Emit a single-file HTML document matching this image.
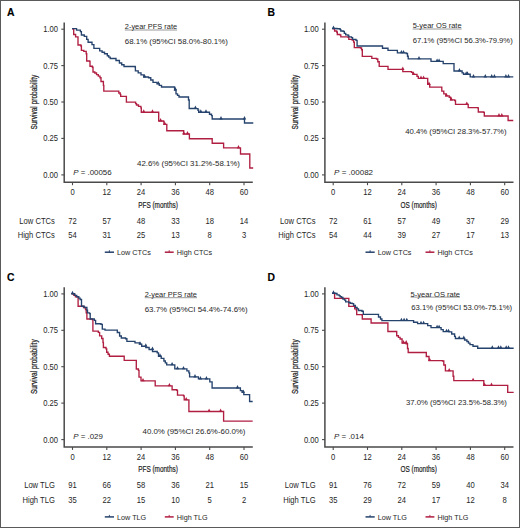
<!DOCTYPE html>
<html><head><meta charset="utf-8"><style>
html,body{margin:0;padding:0;background:#fff;}
body{width:520px;height:528px;overflow:hidden;}
svg{display:block;font-family:"Liberation Sans", sans-serif;}
text{}
</style></head><body>
<svg width="520" height="528" viewBox="0 0 520 528">
<rect x="0" y="0" width="520" height="528" fill="#fff"/>
<text transform="translate(6.90,16.20) scale(0.92,1)" font-size="11.3" font-weight="bold" fill="#000" style="stroke:#000;stroke-width:0.15px">A</text>
<path d="M64.20,22.50 V182.30 H252.80" fill="none" stroke="#4a4a4a" stroke-width="1.5"/>
<line x1="61.30" y1="29.20" x2="64.20" y2="29.20" stroke="#4a4a4a" stroke-width="1.1"/>
<text transform="translate(58.00,32.20) scale(0.930,1)" font-size="8.20" text-anchor="end" fill="#262626" >1.00</text>
<line x1="61.30" y1="65.60" x2="64.20" y2="65.60" stroke="#4a4a4a" stroke-width="1.1"/>
<text transform="translate(58.00,68.60) scale(0.930,1)" font-size="8.20" text-anchor="end" fill="#262626" >0.75</text>
<line x1="61.30" y1="102.00" x2="64.20" y2="102.00" stroke="#4a4a4a" stroke-width="1.1"/>
<text transform="translate(58.00,105.00) scale(0.930,1)" font-size="8.20" text-anchor="end" fill="#262626" >0.50</text>
<line x1="61.30" y1="138.40" x2="64.20" y2="138.40" stroke="#4a4a4a" stroke-width="1.1"/>
<text transform="translate(58.00,141.40) scale(0.930,1)" font-size="8.20" text-anchor="end" fill="#262626" >0.25</text>
<line x1="61.30" y1="174.90" x2="64.20" y2="174.90" stroke="#4a4a4a" stroke-width="1.1"/>
<text transform="translate(58.00,177.90) scale(0.930,1)" font-size="8.20" text-anchor="end" fill="#262626" >0.00</text>
<line x1="72.50" y1="182.30" x2="72.50" y2="185.20" stroke="#4a4a4a" stroke-width="1.1"/>
<text transform="translate(72.50,195.40) scale(0.930,1)" font-size="8.20" text-anchor="middle" fill="#262626" >0</text>
<line x1="106.80" y1="182.30" x2="106.80" y2="185.20" stroke="#4a4a4a" stroke-width="1.1"/>
<text transform="translate(106.80,195.40) scale(0.930,1)" font-size="8.20" text-anchor="middle" fill="#262626" >12</text>
<line x1="141.10" y1="182.30" x2="141.10" y2="185.20" stroke="#4a4a4a" stroke-width="1.1"/>
<text transform="translate(141.10,195.40) scale(0.930,1)" font-size="8.20" text-anchor="middle" fill="#262626" >24</text>
<line x1="175.40" y1="182.30" x2="175.40" y2="185.20" stroke="#4a4a4a" stroke-width="1.1"/>
<text transform="translate(175.40,195.40) scale(0.930,1)" font-size="8.20" text-anchor="middle" fill="#262626" >36</text>
<line x1="209.70" y1="182.30" x2="209.70" y2="185.20" stroke="#4a4a4a" stroke-width="1.1"/>
<text transform="translate(209.70,195.40) scale(0.930,1)" font-size="8.20" text-anchor="middle" fill="#262626" >48</text>
<line x1="244.00" y1="182.30" x2="244.00" y2="185.20" stroke="#4a4a4a" stroke-width="1.1"/>
<text transform="translate(244.00,195.40) scale(0.930,1)" font-size="8.20" text-anchor="middle" fill="#262626" >60</text>
<text transform="translate(158.00,207.50) scale(0.74,1)" font-size="8.7" text-anchor="middle" fill="#262626" style="stroke:#1a1a1a;stroke-width:0.2px">PFS (months)</text>
<text transform="translate(36.80,102.00) rotate(-90) scale(0.76,1)" font-size="8.6" text-anchor="middle" fill="#262626" style="stroke:#1a1a1a;stroke-width:0.25px">Survival probability</text>
<text transform="translate(54.90,223.60) scale(0.930,1)" font-size="8.20" text-anchor="end" fill="#262626" >Low CTCs</text>
<text transform="translate(54.90,237.80) scale(0.930,1)" font-size="8.20" text-anchor="end" fill="#262626" >High CTCs</text>
<text transform="translate(72.50,223.60) scale(0.930,1)" font-size="8.20" text-anchor="middle" fill="#262626" >72</text>
<text transform="translate(72.50,237.80) scale(0.930,1)" font-size="8.20" text-anchor="middle" fill="#262626" >54</text>
<text transform="translate(106.80,223.60) scale(0.930,1)" font-size="8.20" text-anchor="middle" fill="#262626" >57</text>
<text transform="translate(106.80,237.80) scale(0.930,1)" font-size="8.20" text-anchor="middle" fill="#262626" >31</text>
<text transform="translate(141.10,223.60) scale(0.930,1)" font-size="8.20" text-anchor="middle" fill="#262626" >48</text>
<text transform="translate(141.10,237.80) scale(0.930,1)" font-size="8.20" text-anchor="middle" fill="#262626" >25</text>
<text transform="translate(175.40,223.60) scale(0.930,1)" font-size="8.20" text-anchor="middle" fill="#262626" >33</text>
<text transform="translate(175.40,237.80) scale(0.930,1)" font-size="8.20" text-anchor="middle" fill="#262626" >13</text>
<text transform="translate(209.70,223.60) scale(0.930,1)" font-size="8.20" text-anchor="middle" fill="#262626" >18</text>
<text transform="translate(209.70,237.80) scale(0.930,1)" font-size="8.20" text-anchor="middle" fill="#262626" >8</text>
<text transform="translate(244.00,223.60) scale(0.930,1)" font-size="8.20" text-anchor="middle" fill="#262626" >14</text>
<text transform="translate(244.00,237.80) scale(0.930,1)" font-size="8.20" text-anchor="middle" fill="#262626" >3</text>
<line x1="104.80" y1="252.20" x2="114.00" y2="252.20" stroke="#26436d" stroke-width="1.5"/>
<line x1="109.40" y1="250.20" x2="109.40" y2="252.20" stroke="#26436d" stroke-width="0.9"/>
<text transform="translate(117.00,255.00) scale(0.930,1)" font-size="7.79" text-anchor="start" fill="#262626" >Low CTCs</text>
<line x1="164.80" y1="252.20" x2="173.70" y2="252.20" stroke="#b01e42" stroke-width="1.5"/>
<line x1="169.20" y1="250.20" x2="169.20" y2="252.20" stroke="#b01e42" stroke-width="0.9"/>
<text transform="translate(176.80,255.00) scale(0.930,1)" font-size="7.79" text-anchor="start" fill="#262626" >High CTCs</text>
<text transform="translate(267.60,16.20) scale(0.92,1)" font-size="11.3" font-weight="bold" fill="#000" style="stroke:#000;stroke-width:0.15px">B</text>
<path d="M324.90,22.50 V182.30 H513.50" fill="none" stroke="#4a4a4a" stroke-width="1.5"/>
<line x1="322.00" y1="29.20" x2="324.90" y2="29.20" stroke="#4a4a4a" stroke-width="1.1"/>
<text transform="translate(318.70,32.20) scale(0.930,1)" font-size="8.20" text-anchor="end" fill="#262626" >1.00</text>
<line x1="322.00" y1="65.60" x2="324.90" y2="65.60" stroke="#4a4a4a" stroke-width="1.1"/>
<text transform="translate(318.70,68.60) scale(0.930,1)" font-size="8.20" text-anchor="end" fill="#262626" >0.75</text>
<line x1="322.00" y1="102.00" x2="324.90" y2="102.00" stroke="#4a4a4a" stroke-width="1.1"/>
<text transform="translate(318.70,105.00) scale(0.930,1)" font-size="8.20" text-anchor="end" fill="#262626" >0.50</text>
<line x1="322.00" y1="138.40" x2="324.90" y2="138.40" stroke="#4a4a4a" stroke-width="1.1"/>
<text transform="translate(318.70,141.40) scale(0.930,1)" font-size="8.20" text-anchor="end" fill="#262626" >0.25</text>
<line x1="322.00" y1="174.90" x2="324.90" y2="174.90" stroke="#4a4a4a" stroke-width="1.1"/>
<text transform="translate(318.70,177.90) scale(0.930,1)" font-size="8.20" text-anchor="end" fill="#262626" >0.00</text>
<line x1="333.20" y1="182.30" x2="333.20" y2="185.20" stroke="#4a4a4a" stroke-width="1.1"/>
<text transform="translate(333.20,195.40) scale(0.930,1)" font-size="8.20" text-anchor="middle" fill="#262626" >0</text>
<line x1="367.50" y1="182.30" x2="367.50" y2="185.20" stroke="#4a4a4a" stroke-width="1.1"/>
<text transform="translate(367.50,195.40) scale(0.930,1)" font-size="8.20" text-anchor="middle" fill="#262626" >12</text>
<line x1="401.80" y1="182.30" x2="401.80" y2="185.20" stroke="#4a4a4a" stroke-width="1.1"/>
<text transform="translate(401.80,195.40) scale(0.930,1)" font-size="8.20" text-anchor="middle" fill="#262626" >24</text>
<line x1="436.10" y1="182.30" x2="436.10" y2="185.20" stroke="#4a4a4a" stroke-width="1.1"/>
<text transform="translate(436.10,195.40) scale(0.930,1)" font-size="8.20" text-anchor="middle" fill="#262626" >36</text>
<line x1="470.40" y1="182.30" x2="470.40" y2="185.20" stroke="#4a4a4a" stroke-width="1.1"/>
<text transform="translate(470.40,195.40) scale(0.930,1)" font-size="8.20" text-anchor="middle" fill="#262626" >48</text>
<line x1="504.70" y1="182.30" x2="504.70" y2="185.20" stroke="#4a4a4a" stroke-width="1.1"/>
<text transform="translate(504.70,195.40) scale(0.930,1)" font-size="8.20" text-anchor="middle" fill="#262626" >60</text>
<text transform="translate(418.70,207.50) scale(0.74,1)" font-size="8.7" text-anchor="middle" fill="#262626" style="stroke:#1a1a1a;stroke-width:0.2px">OS (months)</text>
<text transform="translate(297.50,102.00) rotate(-90) scale(0.76,1)" font-size="8.6" text-anchor="middle" fill="#262626" style="stroke:#1a1a1a;stroke-width:0.25px">Survival probability</text>
<text transform="translate(315.60,223.60) scale(0.930,1)" font-size="8.20" text-anchor="end" fill="#262626" >Low CTCs</text>
<text transform="translate(315.60,237.80) scale(0.930,1)" font-size="8.20" text-anchor="end" fill="#262626" >High CTCs</text>
<text transform="translate(333.20,223.60) scale(0.930,1)" font-size="8.20" text-anchor="middle" fill="#262626" >72</text>
<text transform="translate(333.20,237.80) scale(0.930,1)" font-size="8.20" text-anchor="middle" fill="#262626" >54</text>
<text transform="translate(367.50,223.60) scale(0.930,1)" font-size="8.20" text-anchor="middle" fill="#262626" >61</text>
<text transform="translate(367.50,237.80) scale(0.930,1)" font-size="8.20" text-anchor="middle" fill="#262626" >44</text>
<text transform="translate(401.80,223.60) scale(0.930,1)" font-size="8.20" text-anchor="middle" fill="#262626" >57</text>
<text transform="translate(401.80,237.80) scale(0.930,1)" font-size="8.20" text-anchor="middle" fill="#262626" >39</text>
<text transform="translate(436.10,223.60) scale(0.930,1)" font-size="8.20" text-anchor="middle" fill="#262626" >49</text>
<text transform="translate(436.10,237.80) scale(0.930,1)" font-size="8.20" text-anchor="middle" fill="#262626" >27</text>
<text transform="translate(470.40,223.60) scale(0.930,1)" font-size="8.20" text-anchor="middle" fill="#262626" >37</text>
<text transform="translate(470.40,237.80) scale(0.930,1)" font-size="8.20" text-anchor="middle" fill="#262626" >17</text>
<text transform="translate(504.70,223.60) scale(0.930,1)" font-size="8.20" text-anchor="middle" fill="#262626" >29</text>
<text transform="translate(504.70,237.80) scale(0.930,1)" font-size="8.20" text-anchor="middle" fill="#262626" >13</text>
<line x1="365.50" y1="252.20" x2="374.70" y2="252.20" stroke="#26436d" stroke-width="1.5"/>
<line x1="370.10" y1="250.20" x2="370.10" y2="252.20" stroke="#26436d" stroke-width="0.9"/>
<text transform="translate(377.70,255.00) scale(0.930,1)" font-size="7.79" text-anchor="start" fill="#262626" >Low CTCs</text>
<line x1="425.50" y1="252.20" x2="434.40" y2="252.20" stroke="#b01e42" stroke-width="1.5"/>
<line x1="429.90" y1="250.20" x2="429.90" y2="252.20" stroke="#b01e42" stroke-width="0.9"/>
<text transform="translate(437.50,255.00) scale(0.930,1)" font-size="7.79" text-anchor="start" fill="#262626" >High CTCs</text>
<text transform="translate(6.90,280.90) scale(0.92,1)" font-size="11.3" font-weight="bold" fill="#000" style="stroke:#000;stroke-width:0.15px">C</text>
<path d="M64.20,287.20 V447.00 H252.80" fill="none" stroke="#4a4a4a" stroke-width="1.5"/>
<line x1="61.30" y1="293.90" x2="64.20" y2="293.90" stroke="#4a4a4a" stroke-width="1.1"/>
<text transform="translate(58.00,296.90) scale(0.930,1)" font-size="8.20" text-anchor="end" fill="#262626" >1.00</text>
<line x1="61.30" y1="330.30" x2="64.20" y2="330.30" stroke="#4a4a4a" stroke-width="1.1"/>
<text transform="translate(58.00,333.30) scale(0.930,1)" font-size="8.20" text-anchor="end" fill="#262626" >0.75</text>
<line x1="61.30" y1="366.70" x2="64.20" y2="366.70" stroke="#4a4a4a" stroke-width="1.1"/>
<text transform="translate(58.00,369.70) scale(0.930,1)" font-size="8.20" text-anchor="end" fill="#262626" >0.50</text>
<line x1="61.30" y1="403.10" x2="64.20" y2="403.10" stroke="#4a4a4a" stroke-width="1.1"/>
<text transform="translate(58.00,406.10) scale(0.930,1)" font-size="8.20" text-anchor="end" fill="#262626" >0.25</text>
<line x1="61.30" y1="439.60" x2="64.20" y2="439.60" stroke="#4a4a4a" stroke-width="1.1"/>
<text transform="translate(58.00,442.60) scale(0.930,1)" font-size="8.20" text-anchor="end" fill="#262626" >0.00</text>
<line x1="72.50" y1="447.00" x2="72.50" y2="449.90" stroke="#4a4a4a" stroke-width="1.1"/>
<text transform="translate(72.50,460.10) scale(0.930,1)" font-size="8.20" text-anchor="middle" fill="#262626" >0</text>
<line x1="106.80" y1="447.00" x2="106.80" y2="449.90" stroke="#4a4a4a" stroke-width="1.1"/>
<text transform="translate(106.80,460.10) scale(0.930,1)" font-size="8.20" text-anchor="middle" fill="#262626" >12</text>
<line x1="141.10" y1="447.00" x2="141.10" y2="449.90" stroke="#4a4a4a" stroke-width="1.1"/>
<text transform="translate(141.10,460.10) scale(0.930,1)" font-size="8.20" text-anchor="middle" fill="#262626" >24</text>
<line x1="175.40" y1="447.00" x2="175.40" y2="449.90" stroke="#4a4a4a" stroke-width="1.1"/>
<text transform="translate(175.40,460.10) scale(0.930,1)" font-size="8.20" text-anchor="middle" fill="#262626" >36</text>
<line x1="209.70" y1="447.00" x2="209.70" y2="449.90" stroke="#4a4a4a" stroke-width="1.1"/>
<text transform="translate(209.70,460.10) scale(0.930,1)" font-size="8.20" text-anchor="middle" fill="#262626" >48</text>
<line x1="244.00" y1="447.00" x2="244.00" y2="449.90" stroke="#4a4a4a" stroke-width="1.1"/>
<text transform="translate(244.00,460.10) scale(0.930,1)" font-size="8.20" text-anchor="middle" fill="#262626" >60</text>
<text transform="translate(158.00,472.20) scale(0.74,1)" font-size="8.7" text-anchor="middle" fill="#262626" style="stroke:#1a1a1a;stroke-width:0.2px">PFS (months)</text>
<text transform="translate(36.80,366.70) rotate(-90) scale(0.76,1)" font-size="8.6" text-anchor="middle" fill="#262626" style="stroke:#1a1a1a;stroke-width:0.25px">Survival probability</text>
<text transform="translate(54.90,488.30) scale(0.930,1)" font-size="8.20" text-anchor="end" fill="#262626" >Low TLG</text>
<text transform="translate(54.90,502.50) scale(0.930,1)" font-size="8.20" text-anchor="end" fill="#262626" >High TLG</text>
<text transform="translate(72.50,488.30) scale(0.930,1)" font-size="8.20" text-anchor="middle" fill="#262626" >91</text>
<text transform="translate(72.50,502.50) scale(0.930,1)" font-size="8.20" text-anchor="middle" fill="#262626" >35</text>
<text transform="translate(106.80,488.30) scale(0.930,1)" font-size="8.20" text-anchor="middle" fill="#262626" >66</text>
<text transform="translate(106.80,502.50) scale(0.930,1)" font-size="8.20" text-anchor="middle" fill="#262626" >22</text>
<text transform="translate(141.10,488.30) scale(0.930,1)" font-size="8.20" text-anchor="middle" fill="#262626" >58</text>
<text transform="translate(141.10,502.50) scale(0.930,1)" font-size="8.20" text-anchor="middle" fill="#262626" >15</text>
<text transform="translate(175.40,488.30) scale(0.930,1)" font-size="8.20" text-anchor="middle" fill="#262626" >36</text>
<text transform="translate(175.40,502.50) scale(0.930,1)" font-size="8.20" text-anchor="middle" fill="#262626" >10</text>
<text transform="translate(209.70,488.30) scale(0.930,1)" font-size="8.20" text-anchor="middle" fill="#262626" >21</text>
<text transform="translate(209.70,502.50) scale(0.930,1)" font-size="8.20" text-anchor="middle" fill="#262626" >5</text>
<text transform="translate(244.00,488.30) scale(0.930,1)" font-size="8.20" text-anchor="middle" fill="#262626" >15</text>
<text transform="translate(244.00,502.50) scale(0.930,1)" font-size="8.20" text-anchor="middle" fill="#262626" >2</text>
<line x1="104.80" y1="516.90" x2="114.00" y2="516.90" stroke="#26436d" stroke-width="1.5"/>
<line x1="109.40" y1="514.90" x2="109.40" y2="516.90" stroke="#26436d" stroke-width="0.9"/>
<text transform="translate(117.00,519.70) scale(0.930,1)" font-size="7.79" text-anchor="start" fill="#262626" >Low TLG</text>
<line x1="164.80" y1="516.90" x2="173.70" y2="516.90" stroke="#b01e42" stroke-width="1.5"/>
<line x1="169.20" y1="514.90" x2="169.20" y2="516.90" stroke="#b01e42" stroke-width="0.9"/>
<text transform="translate(176.80,519.70) scale(0.930,1)" font-size="7.79" text-anchor="start" fill="#262626" >High TLG</text>
<text transform="translate(267.60,280.90) scale(0.92,1)" font-size="11.3" font-weight="bold" fill="#000" style="stroke:#000;stroke-width:0.15px">D</text>
<path d="M324.90,287.20 V447.00 H513.50" fill="none" stroke="#4a4a4a" stroke-width="1.5"/>
<line x1="322.00" y1="293.90" x2="324.90" y2="293.90" stroke="#4a4a4a" stroke-width="1.1"/>
<text transform="translate(318.70,296.90) scale(0.930,1)" font-size="8.20" text-anchor="end" fill="#262626" >1.00</text>
<line x1="322.00" y1="330.30" x2="324.90" y2="330.30" stroke="#4a4a4a" stroke-width="1.1"/>
<text transform="translate(318.70,333.30) scale(0.930,1)" font-size="8.20" text-anchor="end" fill="#262626" >0.75</text>
<line x1="322.00" y1="366.70" x2="324.90" y2="366.70" stroke="#4a4a4a" stroke-width="1.1"/>
<text transform="translate(318.70,369.70) scale(0.930,1)" font-size="8.20" text-anchor="end" fill="#262626" >0.50</text>
<line x1="322.00" y1="403.10" x2="324.90" y2="403.10" stroke="#4a4a4a" stroke-width="1.1"/>
<text transform="translate(318.70,406.10) scale(0.930,1)" font-size="8.20" text-anchor="end" fill="#262626" >0.25</text>
<line x1="322.00" y1="439.60" x2="324.90" y2="439.60" stroke="#4a4a4a" stroke-width="1.1"/>
<text transform="translate(318.70,442.60) scale(0.930,1)" font-size="8.20" text-anchor="end" fill="#262626" >0.00</text>
<line x1="333.20" y1="447.00" x2="333.20" y2="449.90" stroke="#4a4a4a" stroke-width="1.1"/>
<text transform="translate(333.20,460.10) scale(0.930,1)" font-size="8.20" text-anchor="middle" fill="#262626" >0</text>
<line x1="367.50" y1="447.00" x2="367.50" y2="449.90" stroke="#4a4a4a" stroke-width="1.1"/>
<text transform="translate(367.50,460.10) scale(0.930,1)" font-size="8.20" text-anchor="middle" fill="#262626" >12</text>
<line x1="401.80" y1="447.00" x2="401.80" y2="449.90" stroke="#4a4a4a" stroke-width="1.1"/>
<text transform="translate(401.80,460.10) scale(0.930,1)" font-size="8.20" text-anchor="middle" fill="#262626" >24</text>
<line x1="436.10" y1="447.00" x2="436.10" y2="449.90" stroke="#4a4a4a" stroke-width="1.1"/>
<text transform="translate(436.10,460.10) scale(0.930,1)" font-size="8.20" text-anchor="middle" fill="#262626" >36</text>
<line x1="470.40" y1="447.00" x2="470.40" y2="449.90" stroke="#4a4a4a" stroke-width="1.1"/>
<text transform="translate(470.40,460.10) scale(0.930,1)" font-size="8.20" text-anchor="middle" fill="#262626" >48</text>
<line x1="504.70" y1="447.00" x2="504.70" y2="449.90" stroke="#4a4a4a" stroke-width="1.1"/>
<text transform="translate(504.70,460.10) scale(0.930,1)" font-size="8.20" text-anchor="middle" fill="#262626" >60</text>
<text transform="translate(418.70,472.20) scale(0.74,1)" font-size="8.7" text-anchor="middle" fill="#262626" style="stroke:#1a1a1a;stroke-width:0.2px">OS (months)</text>
<text transform="translate(297.50,366.70) rotate(-90) scale(0.76,1)" font-size="8.6" text-anchor="middle" fill="#262626" style="stroke:#1a1a1a;stroke-width:0.25px">Survival probability</text>
<text transform="translate(315.60,488.30) scale(0.930,1)" font-size="8.20" text-anchor="end" fill="#262626" >Low TLG</text>
<text transform="translate(315.60,502.50) scale(0.930,1)" font-size="8.20" text-anchor="end" fill="#262626" >High TLG</text>
<text transform="translate(333.20,488.30) scale(0.930,1)" font-size="8.20" text-anchor="middle" fill="#262626" >91</text>
<text transform="translate(333.20,502.50) scale(0.930,1)" font-size="8.20" text-anchor="middle" fill="#262626" >35</text>
<text transform="translate(367.50,488.30) scale(0.930,1)" font-size="8.20" text-anchor="middle" fill="#262626" >76</text>
<text transform="translate(367.50,502.50) scale(0.930,1)" font-size="8.20" text-anchor="middle" fill="#262626" >29</text>
<text transform="translate(401.80,488.30) scale(0.930,1)" font-size="8.20" text-anchor="middle" fill="#262626" >72</text>
<text transform="translate(401.80,502.50) scale(0.930,1)" font-size="8.20" text-anchor="middle" fill="#262626" >24</text>
<text transform="translate(436.10,488.30) scale(0.930,1)" font-size="8.20" text-anchor="middle" fill="#262626" >59</text>
<text transform="translate(436.10,502.50) scale(0.930,1)" font-size="8.20" text-anchor="middle" fill="#262626" >17</text>
<text transform="translate(470.40,488.30) scale(0.930,1)" font-size="8.20" text-anchor="middle" fill="#262626" >40</text>
<text transform="translate(470.40,502.50) scale(0.930,1)" font-size="8.20" text-anchor="middle" fill="#262626" >12</text>
<text transform="translate(504.70,488.30) scale(0.930,1)" font-size="8.20" text-anchor="middle" fill="#262626" >34</text>
<text transform="translate(504.70,502.50) scale(0.930,1)" font-size="8.20" text-anchor="middle" fill="#262626" >8</text>
<line x1="365.50" y1="516.90" x2="374.70" y2="516.90" stroke="#26436d" stroke-width="1.5"/>
<line x1="370.10" y1="514.90" x2="370.10" y2="516.90" stroke="#26436d" stroke-width="0.9"/>
<text transform="translate(377.70,519.70) scale(0.930,1)" font-size="7.79" text-anchor="start" fill="#262626" >Low TLG</text>
<line x1="425.50" y1="516.90" x2="434.40" y2="516.90" stroke="#b01e42" stroke-width="1.5"/>
<line x1="429.90" y1="514.90" x2="429.90" y2="516.90" stroke="#b01e42" stroke-width="0.9"/>
<text transform="translate(437.50,519.70) scale(0.930,1)" font-size="7.79" text-anchor="start" fill="#262626" >High TLG</text>
<path d="M72.70,28.80 H73.20 V28.80 H73.70 V34.50 H75.60 V36.90 H78.00 V37.90 H78.00 V45.00 H80.90 V46.00 H81.40 V50.40 H83.80 V51.30 H86.20 V53.70 H86.70 V61.00 H89.60 V61.40 H90.00 V66.20 H92.40 V67.20 H93.00 V72.00 H94.80 V73.00 H96.53 V74.57 H98.27 V76.13 H100.00 V77.70 H101.00 V81.50 H103.40 V85.30 H103.80 V91.10 H117.80 V91.10 H118.80 V93.00 H120.20 V94.40 H120.70 V96.30 H126.00 V96.30 H126.40 V102.10 H134.60 V102.10 H135.60 V103.60 H136.50 V105.00 H138.50 V106.40 H140.90 V107.90 H141.30 V112.20 H158.70 V112.30 H158.70 V121.00 H163.50 V121.50 H164.00 V124.40 H166.80 V125.00 H166.80 V130.70 H183.70 V130.70 H183.70 V134.00 H189.40 V134.50 H189.40 V138.70 H212.20 V138.70 H212.20 V143.20 H223.60 V143.20 H223.60 V147.90 H240.50 V147.90 H240.50 V154.00 H249.80 V154.00 H249.80 V168.00 H252.50 V168.00" fill="none" stroke="#b01e42" stroke-width="1.35" stroke-linejoin="miter" stroke-linecap="square"/>
<path d="M142.05,112.70 L143.75,109.30 L145.45,112.70 Z" fill="#b01e42"/>
<path d="M150.80,112.70 L152.50,109.30 L154.20,112.70 Z" fill="#b01e42"/>
<path d="M158.90,121.50 L160.60,118.10 L162.30,121.50 Z" fill="#b01e42"/>
<path d="M163.10,124.90 L164.80,121.50 L166.50,124.90 Z" fill="#b01e42"/>
<path d="M182.05,134.50 L183.75,131.10 L185.45,134.50 Z" fill="#b01e42"/>
<path d="M185.80,134.50 L187.50,131.10 L189.20,134.50 Z" fill="#b01e42"/>
<path d="M236.80,148.40 L238.50,145.00 L240.20,148.40 Z" fill="#b01e42"/>
<path d="M72.70,28.60 H76.55 V30.10 H80.40 V31.60 H81.40 V35.00 H84.30 V36.40 H86.70 V39.30 H88.10 V42.20 H92.00 V44.60 H93.90 V48.40 H99.70 V50.80 H102.10 V52.25 H104.50 V53.70 H107.30 V55.70 H108.75 V57.10 H110.20 V58.50 H116.00 V60.50 H119.40 V63.00 H121.70 V64.75 H124.00 V66.50 H135.20 V67.20 H135.40 V70.80 H138.20 V72.87 H141.00 V74.93 H143.80 V77.00 H148.50 V77.70 H150.75 V80.00 H153.00 V82.30 H157.00 V83.80 H159.25 V85.40 H161.50 V87.00 H172.30 V87.00 H174.60 V90.00 H176.00 V93.80 H177.50 V95.40 H179.00 V97.00 H187.00 V97.00 H188.50 V100.00 H189.20 V108.50 H196.00 V108.60 H198.00 V110.20 H198.70 V112.20 H208.80 V112.20 H209.50 V114.20 H211.50 V115.60 H212.20 V119.00 H243.80 V119.00 H244.50 V123.00 H252.60 V123.00" fill="none" stroke="#26436d" stroke-width="1.35" stroke-linejoin="miter" stroke-linecap="square"/>
<path d="M142.90,77.50 L144.60,74.10 L146.30,77.50 Z" fill="#26436d"/>
<path d="M156.60,84.30 L158.30,80.90 L160.00,84.30 Z" fill="#26436d"/>
<path d="M173.70,90.50 L175.40,87.10 L177.10,90.50 Z" fill="#26436d"/>
<path d="M193.70,109.00 L195.40,105.60 L197.10,109.00 Z" fill="#26436d"/>
<path d="M199.10,112.70 L200.80,109.30 L202.50,112.70 Z" fill="#26436d"/>
<path d="M204.30,112.70 L206.00,109.30 L207.70,112.70 Z" fill="#26436d"/>
<path d="M219.30,119.50 L221.00,116.10 L222.70,119.50 Z" fill="#26436d"/>
<path d="M242.80,119.50 L244.50,116.10 L246.20,119.50 Z" fill="#26436d"/>
<path d="M332.80,28.60 H334.00 V28.90 H334.60 V31.00 H336.70 V32.00 H337.30 V34.50 H339.80 V34.80 H340.80 V36.90 H348.10 V37.20 H348.80 V39.30 H352.20 V40.00 H353.60 V42.10 H354.30 V47.60 H360.50 V48.00 H361.60 V49.70 H362.30 V56.30 H371.00 V56.30 H371.80 V58.30 H376.50 V59.00 H377.80 V61.70 H379.20 V66.40 H387.20 V66.40 H388.00 V69.40 H401.40 V69.40 H402.80 V71.60 H411.50 V72.30 H412.90 V74.30 H417.00 V76.30 H418.30 V78.40 H425.70 V78.40 H427.70 V84.40 H429.70 V87.10 H440.50 V87.10 H441.80 V91.10 H443.80 V93.80 H445.90 V95.90 H449.20 V97.20 H450.60 V99.90 H454.60 V100.50 H455.50 V104.30 H467.50 V104.30 H468.20 V107.60 H477.60 V107.80 H478.30 V112.00 H483.60 V112.30 H484.30 V116.00 H507.90 V116.00 H508.10 V120.50 H512.60 V120.50" fill="none" stroke="#b01e42" stroke-width="1.35" stroke-linejoin="miter" stroke-linecap="square"/>
<path d="M401.10,69.90 L402.80,66.50 L404.50,69.90 Z" fill="#b01e42"/>
<path d="M411.80,74.80 L413.50,71.40 L415.20,74.80 Z" fill="#b01e42"/>
<path d="M419.30,78.90 L421.00,75.50 L422.70,78.90 Z" fill="#b01e42"/>
<path d="M421.90,78.90 L423.60,75.50 L425.30,78.90 Z" fill="#b01e42"/>
<path d="M427.30,84.90 L429.00,81.50 L430.70,84.90 Z" fill="#b01e42"/>
<path d="M444.80,96.40 L446.50,93.00 L448.20,96.40 Z" fill="#b01e42"/>
<path d="M449.60,100.40 L451.30,97.00 L453.00,100.40 Z" fill="#b01e42"/>
<path d="M465.10,104.80 L466.80,101.40 L468.50,104.80 Z" fill="#b01e42"/>
<path d="M497.30,116.50 L499.00,113.10 L500.70,116.50 Z" fill="#b01e42"/>
<path d="M500.10,116.50 L501.80,113.10 L503.50,116.50 Z" fill="#b01e42"/>
<path d="M332.80,28.50 H337.00 V28.70 H340.10 V29.60 H340.80 V31.00 H343.20 V31.30 H344.30 V33.40 H345.70 V34.80 H348.10 V35.50 H348.80 V36.90 H351.50 V37.60 H352.60 V39.30 H356.00 V40.40 H357.10 V46.00 H381.50 V46.00 H382.50 V48.20 H387.20 V48.20 H388.00 V50.30 H395.40 V50.30 H397.40 V52.80 H406.20 V53.50 H407.50 V56.20 H408.20 V58.80 H430.40 V58.80 H431.00 V61.30 H441.00 V61.30 H443.20 V63.60 H452.60 V63.60 H454.00 V71.00 H459.40 V71.00 H462.10 V72.90 H463.50 V74.20 H469.50 V74.20 H470.20 V76.90 H512.60 V76.90" fill="none" stroke="#26436d" stroke-width="1.35" stroke-linejoin="miter" stroke-linecap="square"/>
<path d="M331.80,29.00 L333.50,25.60 L335.20,29.00 Z" fill="#26436d"/>
<path d="M399.70,53.30 L401.40,49.90 L403.10,53.30 Z" fill="#26436d"/>
<path d="M401.80,53.30 L403.50,49.90 L405.20,53.30 Z" fill="#26436d"/>
<path d="M417.30,59.30 L419.00,55.90 L420.70,59.30 Z" fill="#26436d"/>
<path d="M435.40,61.80 L437.10,58.40 L438.80,61.80 Z" fill="#26436d"/>
<path d="M437.40,61.80 L439.10,58.40 L440.80,61.80 Z" fill="#26436d"/>
<path d="M457.70,71.50 L459.40,68.10 L461.10,71.50 Z" fill="#26436d"/>
<path d="M464.50,74.70 L466.20,71.30 L467.90,74.70 Z" fill="#26436d"/>
<path d="M465.80,74.70 L467.50,71.30 L469.20,74.70 Z" fill="#26436d"/>
<path d="M471.80,77.40 L473.50,74.00 L475.20,77.40 Z" fill="#26436d"/>
<path d="M483.60,77.40 L485.30,74.00 L487.00,77.40 Z" fill="#26436d"/>
<path d="M490.00,77.40 L491.70,74.00 L493.40,77.40 Z" fill="#26436d"/>
<path d="M492.70,77.40 L494.40,74.00 L496.10,77.40 Z" fill="#26436d"/>
<path d="M504.20,77.40 L505.90,74.00 L507.60,77.40 Z" fill="#26436d"/>
<path d="M506.80,77.40 L508.50,74.00 L510.20,77.40 Z" fill="#26436d"/>
<path d="M72.20,293.70 H73.80 V295.25 H75.40 V296.80 H78.10 V298.80 H78.10 V306.20 H83.50 V307.50 H85.50 V309.60 H86.20 V312.90 H86.90 V319.00 H92.20 V319.60 H92.90 V331.10 H98.30 V332.40 H99.60 V335.80 H101.70 V338.50 H103.00 V342.50 H103.40 V347.50 H106.00 V348.80 H106.70 V352.20 H108.05 V354.20 H109.40 V356.20 H123.60 V356.20 H124.20 V360.30 H135.70 V360.30 H136.30 V369.00 H138.40 V370.40 H139.00 V377.10 H141.00 V380.80 H155.20 V381.10 H155.20 V385.80 H171.40 V385.80 H172.10 V389.70 H176.80 V390.40 H177.50 V395.10 H183.50 V395.80 H184.20 V399.80 H188.90 V400.50 H188.90 V411.50 H223.60 V411.50 H223.60 V421.10 H252.00 V421.10" fill="none" stroke="#b01e42" stroke-width="1.35" stroke-linejoin="miter" stroke-linecap="square"/>
<path d="M141.30,381.30 L143.00,377.90 L144.70,381.30 Z" fill="#b01e42"/>
<path d="M167.70,386.30 L169.40,382.90 L171.10,386.30 Z" fill="#b01e42"/>
<path d="M184.50,400.30 L186.20,396.90 L187.90,400.30 Z" fill="#b01e42"/>
<path d="M207.40,412.00 L209.10,408.60 L210.80,412.00 Z" fill="#b01e42"/>
<path d="M218.90,412.00 L220.60,408.60 L222.30,412.00 Z" fill="#b01e42"/>
<path d="M72.20,293.70 H74.70 V295.40 H76.75 V296.75 H78.80 V298.10 H80.10 V299.50 H81.50 V300.10 H81.50 V306.20 H84.20 V307.50 H86.90 V310.20 H87.50 V312.90 H89.60 V313.60 H90.20 V319.00 H94.30 V320.30 H95.60 V323.70 H101.00 V324.40 H102.30 V329.10 H105.00 V330.10 H114.50 V330.10 H117.30 V332.50 H119.60 V336.00 H121.30 V338.00 H125.60 V338.70 H126.90 V341.40 H135.00 V342.80 H139.70 V344.10 H141.70 V346.20 H145.80 V347.50 H149.10 V349.50 H152.50 V351.50 H157.20 V352.90 H158.50 V356.20 H161.20 V358.30 H163.90 V361.00 H165.30 V362.90 H166.70 V364.80 H173.50 V364.80 H174.80 V368.80 H184.90 V368.80 H186.90 V370.90 H188.90 V372.90 H189.60 V376.90 H196.30 V376.90 H198.40 V378.90 H208.30 V378.90 H209.80 V381.90 H212.10 V382.50 H212.10 V388.00 H239.20 V388.00 H240.40 V390.60 H242.10 V392.30 H243.80 V394.60 H249.60 V394.60 H249.60 V401.50 H252.00 V401.50" fill="none" stroke="#26436d" stroke-width="1.35" stroke-linejoin="miter" stroke-linecap="square"/>
<path d="M70.80,294.20 L72.50,290.80 L74.20,294.20 Z" fill="#26436d"/>
<path d="M138.30,344.60 L140.00,341.20 L141.70,344.60 Z" fill="#26436d"/>
<path d="M144.10,346.70 L145.80,343.30 L147.50,346.70 Z" fill="#26436d"/>
<path d="M150.80,350.00 L152.50,346.60 L154.20,350.00 Z" fill="#26436d"/>
<path d="M158.30,356.70 L160.00,353.30 L161.70,356.70 Z" fill="#26436d"/>
<path d="M170.40,365.30 L172.10,361.90 L173.80,365.30 Z" fill="#26436d"/>
<path d="M175.80,369.30 L177.50,365.90 L179.20,369.30 Z" fill="#26436d"/>
<path d="M181.80,369.30 L183.50,365.90 L185.20,369.30 Z" fill="#26436d"/>
<path d="M193.30,377.40 L195.00,374.00 L196.70,377.40 Z" fill="#26436d"/>
<path d="M198.70,379.40 L200.40,376.00 L202.10,379.40 Z" fill="#26436d"/>
<path d="M204.70,379.40 L206.40,376.00 L208.10,379.40 Z" fill="#26436d"/>
<path d="M235.80,388.50 L237.50,385.10 L239.20,388.50 Z" fill="#26436d"/>
<path d="M241.60,392.80 L243.30,389.40 L245.00,392.80 Z" fill="#26436d"/>
<path d="M332.80,293.30 H334.40 V293.50 H334.60 V298.40 H348.60 V298.40 H348.80 V306.40 H354.00 V306.40 H354.70 V308.80 H356.40 V310.20 H356.70 V314.60 H361.90 V314.70 H362.30 V319.00 H371.10 V319.00 H371.10 V323.00 H387.90 V323.00 H387.90 V331.50 H396.00 V331.50 H396.70 V335.70 H398.40 V337.35 H400.10 V339.00 H402.10 V343.00 H406.20 V343.70 H407.50 V348.50 H408.20 V352.50 H425.70 V352.50 H426.30 V356.50 H429.00 V360.60 H442.50 V361.00 H443.80 V365.00 H445.40 V366.50 H445.40 V370.80 H451.50 V370.80 H453.10 V376.20 H453.80 V380.60 H483.10 V380.60 H483.80 V385.40 H507.70 V385.40 H507.70 V392.30 H513.00 V392.30" fill="none" stroke="#b01e42" stroke-width="1.35" stroke-linejoin="miter" stroke-linecap="square"/>
<path d="M401.80,343.50 L403.50,340.10 L405.20,343.50 Z" fill="#b01e42"/>
<path d="M404.50,343.50 L406.20,340.10 L407.90,343.50 Z" fill="#b01e42"/>
<path d="M428.00,361.10 L429.70,357.70 L431.40,361.10 Z" fill="#b01e42"/>
<path d="M447.50,371.30 L449.20,367.90 L450.90,371.30 Z" fill="#b01e42"/>
<path d="M471.40,381.10 L473.10,377.70 L474.80,381.10 Z" fill="#b01e42"/>
<path d="M482.90,385.90 L484.60,382.50 L486.30,385.90 Z" fill="#b01e42"/>
<path d="M489.80,385.90 L491.50,382.50 L493.20,385.90 Z" fill="#b01e42"/>
<path d="M332.80,293.20 H335.60 V293.50 H337.00 V294.90 H339.10 V295.60 H340.10 V296.70 H341.50 V297.30 H342.90 V299.10 H344.60 V300.10 H345.70 V301.90 H348.80 V302.50 H350.20 V303.20 H352.20 V303.60 H353.60 V305.30 H355.40 V307.40 H357.10 V308.80 H358.50 V310.50 H362.00 V311.20 H363.30 V314.30 H376.50 V314.30 H378.50 V317.00 H380.50 V319.00 H381.90 V320.60 H411.50 V320.60 H413.60 V322.20 H417.60 V323.60 H426.30 V323.60 H427.70 V325.60 H431.00 V327.60 H439.80 V327.60 H441.10 V329.60 H443.20 V331.60 H448.80 V331.80 H451.70 V334.00 H454.60 V336.40 H455.40 V338.50 H461.50 V338.50 H464.60 V340.00 H466.90 V341.50 H468.45 V343.05 H470.00 V344.60 H473.00 V346.20 H476.90 V346.20 H477.70 V348.20 H513.00 V348.20" fill="none" stroke="#26436d" stroke-width="1.35" stroke-linejoin="miter" stroke-linecap="square"/>
<path d="M331.80,293.70 L333.50,290.30 L335.20,293.70 Z" fill="#26436d"/>
<path d="M399.70,321.10 L401.40,317.70 L403.10,321.10 Z" fill="#26436d"/>
<path d="M402.40,321.10 L404.10,317.70 L405.80,321.10 Z" fill="#26436d"/>
<path d="M405.10,321.10 L406.80,317.70 L408.50,321.10 Z" fill="#26436d"/>
<path d="M419.30,324.10 L421.00,320.70 L422.70,324.10 Z" fill="#26436d"/>
<path d="M421.90,324.10 L423.60,320.70 L425.30,324.10 Z" fill="#26436d"/>
<path d="M435.40,328.10 L437.10,324.70 L438.80,328.10 Z" fill="#26436d"/>
<path d="M437.40,328.10 L439.10,324.70 L440.80,328.10 Z" fill="#26436d"/>
<path d="M444.80,332.10 L446.50,328.70 L448.20,332.10 Z" fill="#26436d"/>
<path d="M446.80,332.10 L448.50,328.70 L450.20,332.10 Z" fill="#26436d"/>
<path d="M457.50,339.00 L459.20,335.60 L460.90,339.00 Z" fill="#26436d"/>
<path d="M462.10,339.00 L463.80,335.60 L465.50,339.00 Z" fill="#26436d"/>
<path d="M490.60,348.70 L492.30,345.30 L494.00,348.70 Z" fill="#26436d"/>
<path d="M496.80,348.70 L498.50,345.30 L500.20,348.70 Z" fill="#26436d"/>
<path d="M499.10,348.70 L500.80,345.30 L502.50,348.70 Z" fill="#26436d"/>
<path d="M504.50,348.70 L506.20,345.30 L507.90,348.70 Z" fill="#26436d"/>
<path d="M506.80,348.70 L508.50,345.30 L510.20,348.70 Z" fill="#26436d"/>
<text x="124.80" y="29.40" font-size="8.10" text-anchor="start" fill="#262626" textLength="52.3" lengthAdjust="spacingAndGlyphs">2-year PFS rate</text><line x1="124.80" y1="30.00" x2="177.10" y2="30.00" stroke="#444" stroke-width="0.55"/>
<text x="124.80" y="43.90" font-size="8.10" text-anchor="start" fill="#262626" textLength="103.0" lengthAdjust="spacingAndGlyphs">68.1% (95%CI 58.0%-80.1%)</text>
<text x="240.00" y="165.50" font-size="8.10" text-anchor="end" fill="#262626" textLength="103.0" lengthAdjust="spacingAndGlyphs">42.6% (95%CI 31.2%-58.1%)</text>
<text x="73.20" y="174.90" font-size="8.1" fill="#262626" textLength="38.4" lengthAdjust="spacingAndGlyphs"><tspan font-style="italic">P</tspan> = .00056</text>
<text x="412.70" y="28.40" font-size="8.10" text-anchor="start" fill="#262626" textLength="48.9" lengthAdjust="spacingAndGlyphs">5-year OS rate</text><line x1="412.70" y1="29.00" x2="461.60" y2="29.00" stroke="#444" stroke-width="0.55"/>
<text x="412.70" y="42.80" font-size="8.10" text-anchor="start" fill="#262626" textLength="100.0" lengthAdjust="spacingAndGlyphs">67.1% (95%CI 56.3%-79.9%)</text>
<text x="506.50" y="134.40" font-size="8.10" text-anchor="end" fill="#262626" textLength="101.3" lengthAdjust="spacingAndGlyphs">40.4% (95%CI 28.3%-57.7%)</text>
<text x="334.10" y="174.90" font-size="8.1" fill="#262626" textLength="39.0" lengthAdjust="spacingAndGlyphs"><tspan font-style="italic">P</tspan> = .00082</text>
<text x="144.70" y="297.10" font-size="8.10" text-anchor="start" fill="#262626" textLength="52.3" lengthAdjust="spacingAndGlyphs">2-year PFS rate</text><line x1="144.70" y1="297.70" x2="197.00" y2="297.70" stroke="#444" stroke-width="0.55"/>
<text x="144.70" y="311.70" font-size="8.10" text-anchor="start" fill="#262626" textLength="103.0" lengthAdjust="spacingAndGlyphs">63.7% (95%CI 54.4%-74.6%)</text>
<text x="245.50" y="434.00" font-size="8.10" text-anchor="end" fill="#262626" textLength="103.0" lengthAdjust="spacingAndGlyphs">40.0% (95%CI 26.6%-60.0%)</text>
<text x="73.20" y="439.40" font-size="8.1" fill="#262626" textLength="29.7" lengthAdjust="spacingAndGlyphs"><tspan font-style="italic">P</tspan> = .029</text>
<text x="410.60" y="296.50" font-size="8.10" text-anchor="start" fill="#262626" textLength="49.4" lengthAdjust="spacingAndGlyphs">5-year OS rate</text><line x1="410.60" y1="297.10" x2="460.00" y2="297.10" stroke="#444" stroke-width="0.55"/>
<text x="411.20" y="310.00" font-size="8.10" text-anchor="start" fill="#262626" textLength="101.0" lengthAdjust="spacingAndGlyphs">63.1% (95%CI 53.0%-75.1%)</text>
<text x="506.90" y="405.40" font-size="8.10" text-anchor="end" fill="#262626" textLength="101.0" lengthAdjust="spacingAndGlyphs">37.0% (95%CI 23.5%-58.3%)</text>
<text x="334.10" y="439.40" font-size="8.1" fill="#262626" textLength="29.7" lengthAdjust="spacingAndGlyphs"><tspan font-style="italic">P</tspan> = .014</text>
<rect x="0.5" y="0.5" width="519" height="527" fill="none" stroke="#5a5a5a" stroke-width="1"/>
</svg>
</body></html>
